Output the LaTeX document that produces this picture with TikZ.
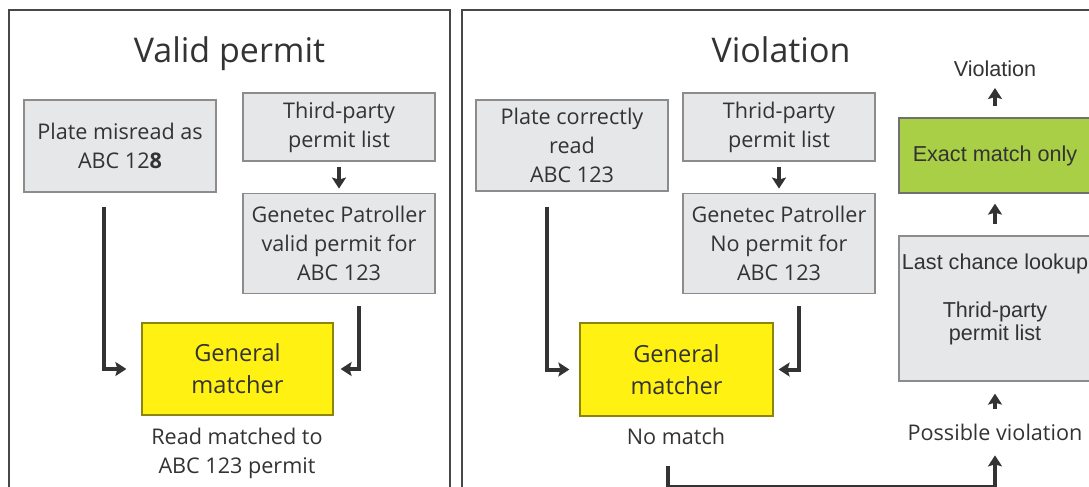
\documentclass[tikz,border=0pt]{standalone}
\usepackage{fontspec}
\setmainfont{Open Sans}
\newfontfamily\arialfont{Liberation Sans}
\usepackage{xcolor}
\usetikzlibrary{arrows.meta,positioning,calc}

\definecolor{inkgray}{HTML}{333333}
\definecolor{boxgray}{HTML}{E6E7E8}
\definecolor{boxline}{HTML}{8C8C8C}
\definecolor{matchyellow}{HTML}{FFF212}
\definecolor{exactgreen}{HTML}{A9CF46}

\tikzset{
  panel/.style={draw=inkgray!90,line width=1pt},
  title/.style={text=inkgray,anchor=base,font=\fontsize{17}{20}\selectfont},
  infobox/.style={draw=boxline,fill=boxgray,line width=0.6pt,text=inkgray,
    minimum width=96pt,align=center,inner sep=0pt,
    font=\fontsize{10.8}{14.5}\selectfont},
  matchbox/.style={infobox,fill=matchyellow,draw=black!45!matchyellow,
    font=\fontsize{11.8}{16}\selectfont},
  label/.style={text=inkgray,align=center,font=\fontsize{10.8}{14.5}\selectfont},
  flow/.style={draw=inkgray,line width=2pt,
    -{Stealth[length=5.5pt,width=7pt,inset=1pt]}},
}

\begin{document}
\begin{tikzpicture}[x=0.5pt,y=-0.5pt]
  \clip (0,0) rectangle (1089,487);
  \fill[white] (0,0) rectangle (1089,487);

  % valid permit
  \draw[panel] (9,10) rectangle (450,500);
  \node[title] (titleL) at (229.5,62) {Valid permit};

  \node[infobox,minimum height=46pt] (plateL) at (120,146)
    {Plate misread as\\ABC 12\textbf{8}};
  \node[infobox,minimum height=34pt] (listL) at (339,127)
    {Third-party\\permit list};
  \node[infobox,minimum height=50pt,below=15.5pt of listL] (patrolL)
    {Genetec Patroller\\valid permit for\\ABC 123};
  \node[matchbox,minimum width=95.5pt,minimum height=46pt] (genL) at (237.5,369)
    {General\\matcher};
  \node[label] (readL) at (237,453) {Read matched to\\ABC 123 permit};

  \draw[flow,shorten <=2.5pt,shorten >=2pt] (listL) -- (patrolL);
  \draw[flow,shorten >=7.5pt] ($(plateL.south)+(-16,14)$) |- (genL.west);
  \draw[flow,shorten >=3.5pt] ($(patrolL.south)+(20,12)$) |- (genL.east);

  % violation
  \draw[panel] (462,10) rectangle (1100,500);
  \node[title] (titleR) at (781,62) {Violation};

  \node[infobox,minimum height=45.5pt] (plateR) at (572,145.5)
    {Plate correctly\\read\\ABC 123};
  \node[infobox,minimum height=34pt] (listR) at (779,127)
    {Thrid-party\\permit list};
  \node[infobox,minimum height=50pt,below=15.5pt of listR] (patrolR)
    {Genetec Patroller\\No permit for\\ABC 123};
  \node[matchbox,minimum width=96.5pt,minimum height=46.5pt] (genR) at (676.5,369.5)
    {General\\matcher};
  \node[label] (nomatch) at (676,436) {No match};

  \draw[flow,shorten <=2.5pt,shorten >=2pt] (listR) -- (patrolR);
  \draw[flow,shorten >=5pt] ($(plateR.south)+(-25,15)$) |- (genR.west);
  \draw[flow,shorten >=2.5pt] ($(patrolR.south)+(20,12)$) |- (genR.east);

  % last chance column
  \node[label,font=\arialfont\fontsize{10.8}{13}\selectfont] (violation) at (995,69) {Violation};
  \node[infobox,fill=exactgreen,draw=inkgray!70,minimum height=37.5pt,
    font=\arialfont\fontsize{10.8}{13}\selectfont] (exact) at (995,155.5) {Exact match only};
  \node[infobox,minimum height=72.5pt,
    font=\arialfont\fontsize{10.8}{11.5}\selectfont] (lookup) at (995,308.5)
    {Last chance lookup\\[12.5pt]Thrid-party\\permit list\\\mbox{}};
  \node[label] (possible) at (995,432) {Possible violation};

  \draw[flow,shorten <=5.5pt,shorten >=2pt] (exact) -- (violation);
  \draw[flow,shorten <=5.5pt,shorten >=5pt] (lookup) -- (exact);
  \draw[flow,shorten <=4pt,shorten >=6pt] (possible) -- (lookup);
  \draw[flow,shorten >=4pt] ($(nomatch.south)+(-8,15)$) |- ++(327,21) -- (possible.south);
\end{tikzpicture}
\end{document}
